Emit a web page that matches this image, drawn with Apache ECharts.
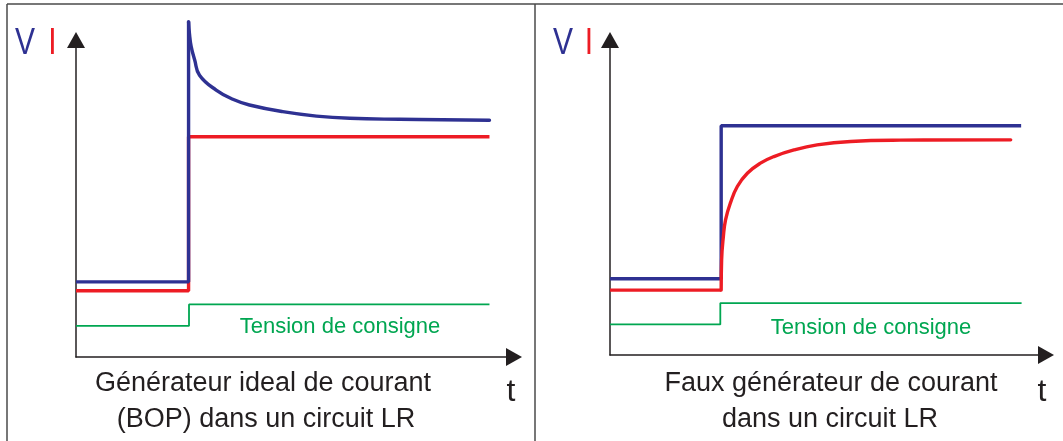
<!DOCTYPE html>
<html>
<head>
<meta charset="utf-8">
<script src="https://cdn.jsdelivr.net/npm/echarts@6/dist/echarts.min.js"></script>
<style>
  html, body { margin: 0; padding: 0; background: #ffffff; }
  #chart { width: 1063px; height: 441px; }
</style>
</head>
<body>
<div id="chart"></div>
<script>
// Step response of a current source driving an LR circuit.
// Time and levels are in arbitrary units (0..10 on both axes).

// Left panel: ideal current generator (BOP)
const leftVoltageT = [0, 2.57, 2.57, 2.59, 2.63, 2.71, 2.82, 3.20, 3.58, 3.96, 4.72, 5.49, 6.25, 7.39, 9.44];
const leftVoltage  = [2.37, 2.37, 10.58, 10.21, 9.79, 9.37, 8.89, 8.42, 8.13, 7.95, 7.74, 7.60, 7.53, 7.50, 7.47];
const leftCurrentT = [0, 2.57, 2.57, 9.44];
const leftCurrent  = [2.09, 2.09, 6.95, 6.95];
const leftSetpointT = [0, 2.58, 2.58, 9.44];
const leftSetpoint  = [0.98, 0.98, 1.66, 1.66];

// Right panel: non-ideal current generator
const rightVoltageT = [0, 2.55, 2.55, 9.43];
const rightVoltage  = [2.42, 2.42, 7.28, 7.28];
const rightCurrentT = [0, 2.55, 2.56, 2.60, 2.65, 2.76, 2.92, 3.15, 3.45, 3.76, 4.22, 4.75, 5.52, 6.66, 9.19];
const rightCurrent  = [2.06, 2.06, 3.02, 3.76, 4.29, 4.82, 5.35, 5.77, 6.09, 6.30, 6.51, 6.67, 6.78, 6.82, 6.83];
const rightSetpointT = [0, 2.53, 2.53, 9.44];
const rightSetpoint  = [0.97, 0.97, 1.65, 1.65];

const captions = [
  ['Générateur ideal de courant', '(BOP) dans un circuit LR'],
  ['Faux générateur de courant', 'dans un circuit LR']
];
const setpointLabel = 'Tension de consigne';
const axisNames = { v: 'V', i: 'I', t: 't' };

const BLUE = '#2e3192', RED = '#ed1c24', GREEN = '#00a651', INK = '#231f20';
const FONT = '"Liberation Sans", Arial, sans-serif';
const LW = 3.4;

function pairs(xs, ys) { return xs.map((x, k) => [x, ys[k]]); }

function axis(gridIndex) {
  return {
    type: 'value', gridIndex, min: 0, max: 10,
    axisLine: { show: true, onZero: false, symbol: ['none', 'triangle'], symbolSize: [18, 16],
                lineStyle: { color: INK, width: 1.5 } },
    axisTick: { show: false }, axisLabel: { show: false }, splitLine: { show: false }
  };
}

function line(idx, data, color, width, z, smooth) {
  return {
    type: 'line', xAxisIndex: idx, yAxisIndex: idx, data,
    symbol: 'none', showSymbol: false, clip: false, z, silent: true,
    smooth: smooth || false,
    lineStyle: { color, width, cap: smooth ? 'round' : 'butt' }, animation: false
  };
}

function text(x, y, str, size, color, sy) {
  return { type: 'text', x, y, silent: true, scaleY: sy || 1,
    style: { text: str, fill: color, font: size + 'px ' + FONT, textAlign: 'center', textVerticalAlign: 'middle' } };
}

// The step parts are straight; the transients after the step are drawn smoothed
const leftV = pairs(leftVoltageT, leftVoltage);
const rightI = pairs(rightCurrentT, rightCurrent);

const chart = echarts.init(document.getElementById('chart'), null, { renderer: 'canvas' });
chart.setOption({
  animation: false,
  backgroundColor: '#ffffff',
  grid: [
    { left: 76, top: 40, width: 438, height: 317 },
    { left: 610, top: 40, width: 436, height: 315 }
  ],
  xAxis: [axis(0), axis(1)],
  yAxis: [axis(0), axis(1)],
  series: [
    line(0, pairs(leftSetpointT, leftSetpoint), GREEN, 1.8, 2),
    line(0, pairs(leftCurrentT, leftCurrent), RED, LW, 3),
    line(0, leftV.slice(0, 3), BLUE, LW, 4),
    line(0, leftV.slice(2), BLUE, LW, 4, 0.45),
    line(1, pairs(rightSetpointT, rightSetpoint), GREEN, 1.8, 2),
    line(1, pairs(rightVoltageT, rightVoltage), BLUE, LW, 3),
    line(1, rightI.slice(0, 2), RED, LW, 4),
    line(1, rightI.slice(1), RED, LW, 4, 0.45)
  ],
  graphic: [
    // frame: top edge, left edge and the panel divider
    { type: 'line', silent: true, shape: { x1: 7, y1: 4, x2: 1063, y2: 4 }, style: { stroke: '#4a4a4a', lineWidth: 1.5 } },
    { type: 'line', silent: true, shape: { x1: 7, y1: 4, x2: 7, y2: 441 }, style: { stroke: '#4a4a4a', lineWidth: 1.5 } },
    { type: 'line', silent: true, shape: { x1: 535, y1: 4, x2: 535, y2: 441 }, style: { stroke: '#4a4a4a', lineWidth: 1.5 } },
    // axis names
    text(25, 44, axisNames.v, 30, BLUE, 1.2), text(52.5, 44, axisNames.i, 30, RED, 1.2),
    text(563, 44, axisNames.v, 30, BLUE, 1.2), text(589, 44, axisNames.i, 30, RED, 1.2),
    text(511, 392, axisNames.t, 32, INK), text(1042, 392, axisNames.t, 32, INK),
    // setpoint labels
    text(340, 327, setpointLabel, 22, GREEN), text(871, 328, setpointLabel, 22, GREEN),
    // captions
    text(263, 384, captions[0][0], 27, INK), text(266, 420, captions[0][1], 27, INK),
    text(831, 384, captions[1][0], 27, INK), text(830, 420, captions[1][1], 27, INK)
  ]
});
</script>
</body>
</html>
